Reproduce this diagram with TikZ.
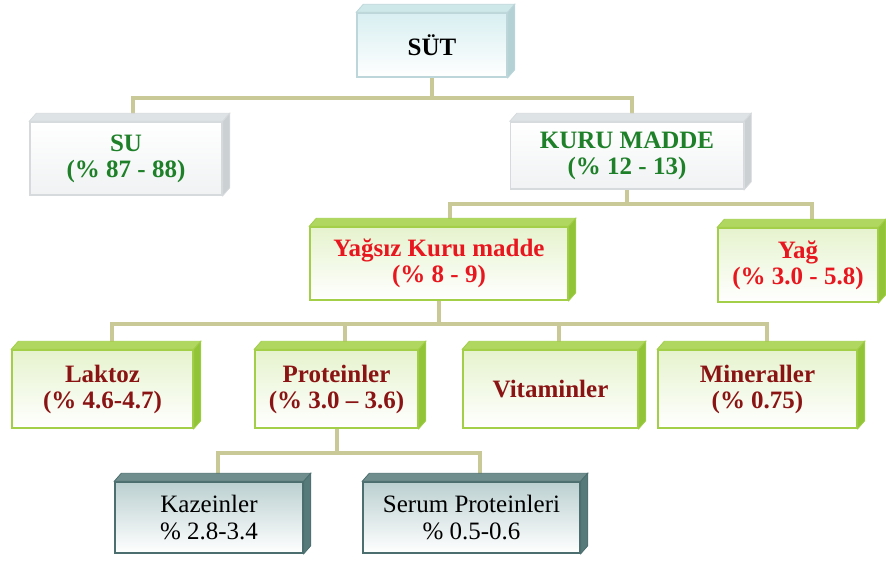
\documentclass[tikz,border=0pt]{standalone}
\usepackage{fontspec}
\setmainfont{Liberation Serif}
\usepackage{tikz}
\usetikzlibrary{backgrounds}
\usetikzlibrary{calc}

\definecolor{linkcol}{RGB}{201,201,152}
\definecolor{cyanfront}{RGB}{216,239,241}
\definecolor{cyantop}{RGB}{206,231,233}
\definecolor{cyanside}{RGB}{180,210,213}
\definecolor{cyanline}{RGB}{188,214,217}
\definecolor{greyfront}{RGB}{240,242,243}
\definecolor{greytop}{RGB}{222,227,230}
\definecolor{greyside}{RGB}{203,208,211}
\definecolor{greyline}{RGB}{214,218,220}
\definecolor{greenfront}{RGB}{230,243,206}
\definecolor{greentop}{RGB}{176,215,96}
\definecolor{greenside}{RGB}{146,196,56}
\definecolor{greenline}{RGB}{162,206,72}
\definecolor{slatefront}{RGB}{188,208,209}
\definecolor{slatetop}{RGB}{112,142,142}
\definecolor{slateside}{RGB}{86,121,121}
\definecolor{slateline}{RGB}{76,110,110}
\definecolor{txtgreen}{RGB}{30,128,40}
\definecolor{txtred}{RGB}{232,22,30}
\definecolor{txtdarkred}{RGB}{138,20,20}

\tikzset{
	box/.style={draw, line width=1.5pt, inner sep=0pt, align=center, font=\bfseries\fontsize{25}{26}\selectfont},
	cyanbox/.style={box, draw=cyanline, top color=cyanfront, bottom color=white},
	greybox/.style={box, draw=greyline, top color=white, bottom color=greyfront, text=txtgreen},
	greenbox/.style={box, draw=greenline, top color=greenfront, bottom color=white},
	slatebox/.style={box, draw=slateline, top color=slatefront, bottom color=white, font=\fontsize{25}{27}\selectfont},
	link/.style={draw=linkcol, line width=4pt}
}

% top and right face of a box
\newcommand{\drawdepth}[2]{%
	\filldraw[fill=#2top, draw=#2line, line width=0.8pt] (#1.north west) -- ++(7,-8) -- ($(#1.north east)+(7,-8)$) -- (#1.north east) -- cycle;
	\filldraw[fill=#2side, draw=#2line, line width=0.8pt] (#1.north east) -- ++(7,-8) -- ($(#1.south east)+(7,-8)$) -- (#1.south east) -- cycle;
}

\begin{document}
\begin{tikzpicture}[x=1pt, y=-1pt]
	\useasboundingbox (0,0) rectangle (886,560);
	\node[cyanbox, minimum width=150pt, minimum height=64pt] (sut) at (432,45) {SÜT};
	\node[greybox, minimum width=192pt, minimum height=73pt] (su) at (126,158.5) {SU\\(\% 87 - 88)};
	\node[greybox, minimum width=233pt, minimum height=67pt] (kuru) at (627,155.5) {KURU MADDE\\(\% 12 - 13)};
	\node[greenbox, text=txtred, minimum width=258pt, minimum height=73pt] (yagsiz) at (439,263.5) {Yağsız Kuru madde\\(\% 8 - 9)};
	\node[greenbox, text=txtred, minimum width=160pt, minimum height=74pt] (yag) at (798,265) {Yağ\\(\% 3.0 - 5.8)};
	\node[greenbox, text=txtdarkred, minimum width=181pt, minimum height=78pt] (laktoz) at (102.5,389) {Laktoz\\(\% 4.6-4.7)};
	\node[greenbox, text=txtdarkred, minimum width=163pt, minimum height=78pt] (protein) at (336.5,389) {Proteinler\\(\% 3.0 – 3.6)};
	\node[greenbox, text=txtdarkred, minimum width=175pt, minimum height=78pt] (vitamin) at (550.5,389) {Vitaminler};
	\node[greenbox, text=txtdarkred, minimum width=199pt, minimum height=78pt] (mineral) at (757.5,389) {Mineraller\\(\% 0.75)};
	\node[slatebox, minimum width=188pt, minimum height=71pt] (kazein) at (209,517.5) {Kazeinler\\\% 2.8-3.4};
	\node[slatebox, minimum width=217pt, minimum height=71pt] (serum) at (471.5,517.5) {Serum Proteinleri\\\% 0.5-0.6};

	\drawdepth{sut}{cyan}
	\foreach \n in {su,kuru} {\drawdepth{\n}{grey}}
	\foreach \n in {yagsiz,yag,laktoz,protein,vitamin,mineral} {\drawdepth{\n}{green}}
	\foreach \n in {kazein,serum} {\drawdepth{\n}{slate}}

	\begin{scope}[on background layer]
		\draw[link] (sut.south) -- ++(0,20) coordinate (bus1);
		\draw[link] ([xshift=7pt]su.north) |- (bus1) -| ([xshift=5pt]kuru.north);
		\draw[link] (kuru.south) -- ++(0,14) coordinate (bus2);
		\draw[link] ([xshift=11pt]yagsiz.north) |- (bus2) -| ([xshift=14pt]yag.north);
		\draw[link] (yagsiz.south) -- ++(0,23) coordinate (bus3);
		\draw[link] ([xshift=9pt]laktoz.north) |- (bus3) -| ([xshift=9pt]mineral.north);
		\draw[link] ([xshift=8pt]protein.north) -- ([xshift=8pt]protein.north |- bus3);
		\draw[link] ([xshift=8pt]vitamin.north) -- ([xshift=8pt]vitamin.north |- bus3);
		\draw[link] (protein.south) -- ++(0,24) coordinate (bus4);
		\draw[link] ([xshift=9pt]kazein.north) |- (bus4) -| ([xshift=8pt]serum.north);
	\end{scope}
\end{tikzpicture}
\end{document}
